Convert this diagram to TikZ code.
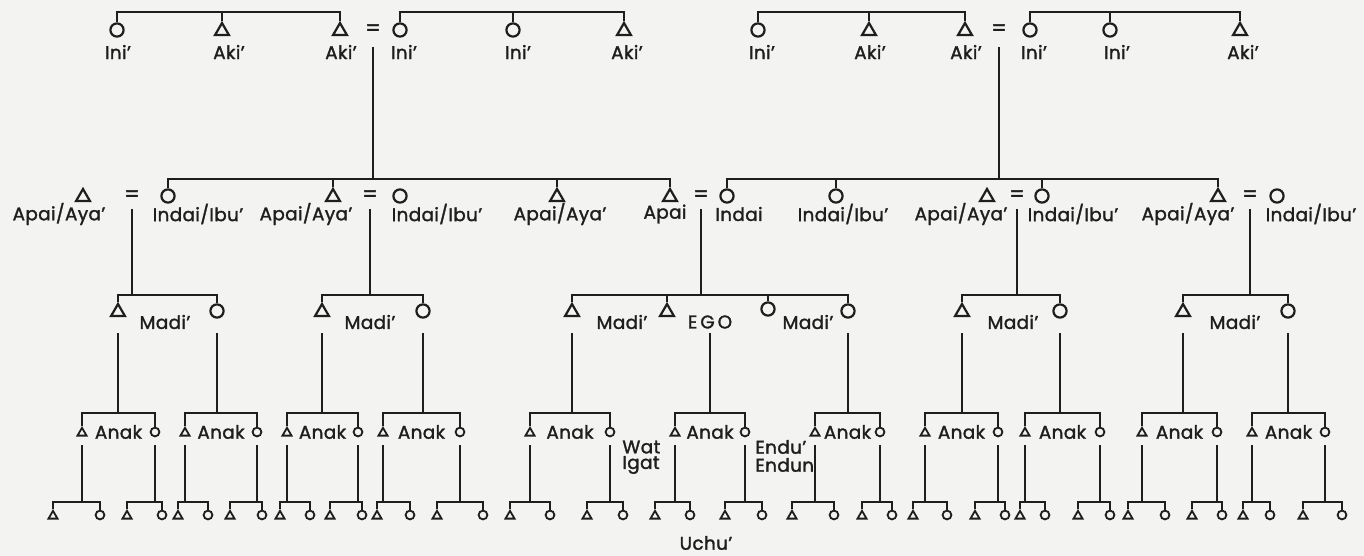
\documentclass[tikz,border=0pt]{standalone}
\usepackage{fontspec}
\newfontfamily\kinfont{Poppins}[FakeBold=1.6, LetterSpace=2, Ligatures=TeX]
\usetikzlibrary{shapes.geometric}
\definecolor{Ink}{RGB}{30,30,30}
\definecolor{Paper}{RGB}{243,243,241}
\tikzset{
  male/.style={draw=Ink, line width=1.1pt, regular polygon, regular polygon sides=3, minimum size=8pt, inner sep=0pt},
  female/.style={draw=Ink, line width=1.1pt, circle, minimum size=6.6pt, inner sep=0pt},
  smale/.style={male, minimum size=5.2pt, line width=0.9pt},
  sfemale/.style={female, minimum size=4.4pt, line width=0.9pt},
  lbl/.style={text=Ink, inner sep=0pt, font=\kinfont\fontsize{9.2}{10.5}\selectfont},
  marr/.style={lbl, font=\kinfont\fontsize{11}{11}\selectfont},
  kin/.style={draw=Ink, line width=0.9pt}
}
\begin{document}
\begin{tikzpicture}[x=0.5pt, y=-0.5pt]
  \fill[Paper] (0,0) rectangle (1364,556);
  \useasboundingbox (0,0) rectangle (1364,556);
  % levels
  \coordinate (tBar) at (0,12);
  \coordinate (tLow) at (0,47);
  \coordinate (gBar) at (0,179);
  \coordinate (gLow) at (0,209);
  \coordinate (mdBar) at (0,295);
  \coordinate (mdLow) at (0,333);
  \coordinate (anBar) at (0,413);
  \coordinate (anLow) at (0,445);
  \coordinate (btBar) at (0,502);

  % grandparents
  \node[female] (tIa) at (117,30) {};
  \node[male] (tKa) at (222,31) {};
  \node[male] (tKb) at (340,31) {};
  \node[marr] (eqT1) at (373,30) {=};
  \node[female] (tIb) at (400,30) {};
  \node[female] (tIc) at (513,30) {};
  \node[male] (tKc) at (624,31) {};
  \node[female] (tId) at (758,30) {};
  \node[male] (tKd) at (869,31) {};
  \node[male] (tKe) at (965,31) {};
  \node[marr] (eqT2) at (999,30) {=};
  \node[female] (tIe) at (1030,30) {};
  \node[female] (tIf) at (1110,30) {};
  \node[male] (tKf) at (1240,31) {};
  \foreach \x/\t in {118/Ini', 229/Aki', 341/Aki', 404/Ini', 518/Ini', 627/Aki', 762/Ini', 870/Aki', 966/Aki', 1034/Ini', 1117/Ini', 1243/Aki'}
    \node[lbl] at (\x,52) {\t};

  \draw[kin] (tIa.north) -- (tIa.north |- tBar) -- (tKb.north |- tBar) -- (tKb.north);
  \draw[kin] (tKa.north) -- (tKa.north |- tBar);
  \draw[kin] (tIb.north) -- (tIb.north |- tBar) -- (tKc.north |- tBar) -- (tKc.north);
  \draw[kin] (tIc.north) -- (tIc.north |- tBar);
  \draw[kin] (tId.north) -- (tId.north |- tBar) -- (tKe.north |- tBar) -- (tKe.north);
  \draw[kin] (tKd.north) -- (tKd.north |- tBar);
  \draw[kin] (tIe.north) -- (tIe.north |- tBar) -- (tKf.north |- tBar) -- (tKf.north);
  \draw[kin] (tIf.north) -- (tIf.north |- tBar);
  \draw[kin] (eqT1 |- tLow) -- (eqT1 |- gBar);
  \draw[kin] (eqT2 |- tLow) -- (eqT2 |- gBar);

  % parents
  \node[male] (gTa) at (83,197) {};
  \node[marr] (eqA) at (132,196) {=};
  \node[female] (gCa) at (168,196) {};
  \node[male] (gTb) at (333,197) {};
  \node[marr] (eqB) at (370,196) {=};
  \node[female] (gCb) at (400,196) {};
  \node[male] (gTc) at (557,197) {};
  \node[male] (gTd) at (670,197) {};
  \node[marr] (eqC) at (701,196) {=};
  \node[female] (gCd) at (727,196) {};
  \node[female] (gCe) at (836,196) {};
  \node[male] (gTf) at (987,197) {};
  \node[marr] (eqD) at (1017,196) {=};
  \node[female] (gCf) at (1042,196) {};
  \node[male] (gTg) at (1218,197) {};
  \node[marr] (eqE) at (1250,196) {=};
  \node[female] (gCg) at (1277,196) {};
  \foreach \x/\t in {59/{Apai/Aya'}, 198/{Indai/Ibu'}, 306/{Apai/Aya'}, 437/{Indai/Ibu'}, 560/{Apai/Aya'}, 843/{Indai/Ibu'}, 961/{Apai/Aya'}, 1073/{Indai/Ibu'}, 1188/{Apai/Aya'}, 1311/{Indai/Ibu'}}
    \node[lbl] at (\x,214) {\t};
  \node[lbl] (lApai) at (665,214) {Apai};
  \node[lbl] (lIndai) at (739,214) {Indai};

  \draw[kin] (gCa.north) -- (gCa.north |- gBar) -- (gTd.north |- gBar) -- (gTd.north);
  \draw[kin] (gTb.north) -- (gTb.north |- gBar);
  \draw[kin] (gTc.north) -- (gTc.north |- gBar);
  \draw[kin] (gCd.north) -- (gCd.north |- gBar) -- (gTg.north |- gBar) -- (gTg.north);
  \draw[kin] (gCe.north) -- (gCe.north |- gBar);
  \draw[kin] (gCf.north) -- (gCf.north |- gBar);
  \foreach \e in {eqA, eqB, eqC, eqD, eqE}
    \draw[kin] (\e |- gLow) -- (\e |- mdBar);

  % ego generation
  \node[male] (mA1) at (118,312) {};
  \node[female] (mA2) at (217,311) {};
  \node[male] (mB1) at (322,312) {};
  \node[female] (mB2) at (423,311) {};
  \node[male] (mC1) at (572,312) {};
  \node[male] (mC2) at (667,312) {};
  \node[female] (mC3) at (768,309) {};
  \node[female] (mC4) at (848,311) {};
  \node[male] (mD1) at (962,312) {};
  \node[female] (mD2) at (1060,311) {};
  \node[male] (mE1) at (1183,312) {};
  \node[female] (mE2) at (1288,311) {};
  \foreach \x in {165, 370, 622, 808, 1013, 1235}
    \node[lbl] at (\x,322) {Madi'};
  \node[lbl] (lEgo) at (710,322) {E\kern1.5pt G\kern1.5pt O};

  \draw[kin] (mA1.north) -- (mA1.north |- mdBar) -- (mA2.north |- mdBar) -- (mA2.north);
  \draw[kin] (mB1.north) -- (mB1.north |- mdBar) -- (mB2.north |- mdBar) -- (mB2.north);
  \draw[kin] (mC1.north) -- (mC1.north |- mdBar) -- (mC4.north |- mdBar) -- (mC4.north);
  \draw[kin] (mC2.north) -- (mC2.north |- mdBar);
  \draw[kin] (mC3.north) -- (mC3.north |- mdBar);
  \draw[kin] (mD1.north) -- (mD1.north |- mdBar) -- (mD2.north |- mdBar) -- (mD2.north);
  \draw[kin] (mE1.north) -- (mE1.north |- mdBar) -- (mE2.north |- mdBar) -- (mE2.north);

  % children
  \foreach \n/\tx/\cx/\p in {A1/82/155/mA1, A2/185/257/mA2, B1/287/358/mB1, B2/383/460/mB2, C1/530/610/mC1, C2/675/745/lEgo, C3/815/880/mC4, D1/925/998/mD1, D2/1025/1100/mD2, E1/1142/1217/mE1, E2/1252/1325/mE2} {
    \node[smale] (aT\n) at (\tx,433) {};
    \node[sfemale] (aC\n) at (\cx,432) {};
    \node[lbl] at ({(\tx+\cx)/2},432) {Anak};
    \draw[kin] (\p |- mdLow) -- (\p |- anBar);
    \draw[kin] (aT\n.north) -- (aT\n.north |- anBar) -- (aC\n.north |- anBar) -- (aC\n.north);
  }

  % grandchildren
  \foreach \p/\tx/\cx in {aTA1/53/100, aCA1/127/162, aTA2/178/208, aCA2/230/262, aTB1/280/310, aCB1/330/362, aTB2/377/410, aCB2/437/483, aTC1/510/550, aCC1/587/623, aTC2/655/690, aCC2/725/762, aTC3/792/834, aCC3/862/892, aTD1/913/947, aCD1/975/1005, aTD2/1020/1045, aCD2/1078/1110, aTE1/1128/1165, aCE1/1192/1222, aTE2/1243/1270, aCE2/1303/1342} {
    \node[smale] (bT\p) at (\tx,516) {};
    \node[sfemale] (bC\p) at (\cx,515) {};
    \draw[kin] (\p |- anLow) -- (\p |- btBar);
    \draw[kin] (bT\p.north) -- (bT\p.north |- btBar) -- (bC\p.north |- btBar) -- (bC\p.north);
  }

  \node[lbl, anchor=west] (lWat) at (622,447) {Wat};
  \node[lbl, anchor=west] (lIgat) at (622,465) {Igat};
  \node[lbl, anchor=west] (lEndu) at (755,447) {Endu'};
  \node[lbl, anchor=west] (lEndun) at (755,465) {Endun};
  \node[lbl] (lUchu) at (706,543) {Uchu'};
\end{tikzpicture}
\end{document}
